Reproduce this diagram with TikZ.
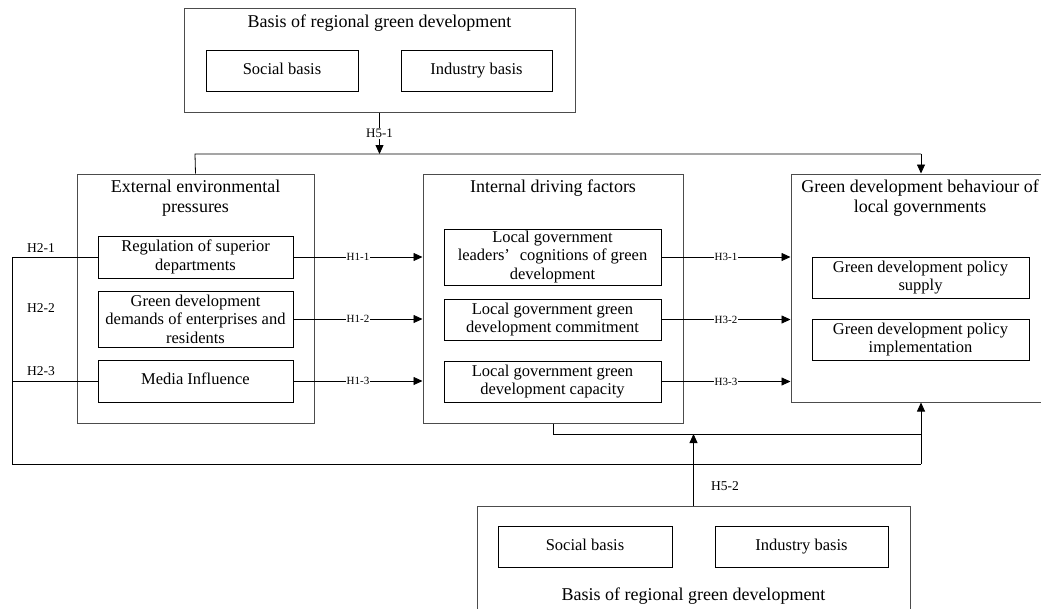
\documentclass[tikz,border=0pt]{standalone}
\usepackage{fontspec}
\setmainfont{Liberation Serif}
\usetikzlibrary{arrows.meta}
\tikzset{
  outer/.style={draw=black!70, line width=1pt, inner sep=0pt},
  inner/.style={draw=black, line width=0.8pt, align=center, inner sep=0pt,
    font=\fontsize{16.5}{18.5}\selectfont},
  oneline/.style={text height=11.5pt, text depth=3.6pt},
  ttl/.style={align=center, inner sep=0pt, font=\fontsize{18}{20.5}\selectfont},
  hsmall/.style={fill=white, inner sep=1pt, font=\fontsize{11}{12}\selectfont},
  hbig/.style={inner sep=0pt, font=\fontsize{13.5}{14}\selectfont},
  conn/.style={line width=0.8pt},
  arr/.style={line width=0.8pt, -{Triangle[length=9pt,width=8pt]}}
}
\begin{document}
\begin{tikzpicture}[x=1pt,y=-1pt]
\useasboundingbox (0,0) rectangle (1041,608);
\clip (0,0) rectangle (1041,608);
% top basis box
\node[outer, minimum width=391pt, minimum height=104pt] (top) at (379.5,60) {};
\node[ttl] (toptitle) at (379.5,23) {Basis of regional green development};
\node[inner, oneline, minimum width=152pt, minimum height=41pt] (soc1) at (282,70.5) {Social basis};
\node[inner, oneline, minimum width=151pt, minimum height=41pt] (ind1) at (476.5,70.5) {Industry basis};
% external box
\node[outer, minimum width=237pt, minimum height=249pt] (ext) at (195.5,298.5) {};
\node[ttl] (exttitle) at (195.5,198) {External environmental\\pressures};
\node[inner, minimum width=195pt, minimum height=42pt] (reg) at (195.5,257) {Regulation of superior\\departments};
\node[inner, minimum width=195pt, minimum height=56pt] (dem) at (195.5,319) {Green development\\demands of enterprises and\\residents};
\node[inner, oneline, minimum width=195pt, minimum height=42pt] (med) at (195.5,381) {Media Influence};
% internal box
\node[outer, minimum width=260pt, minimum height=249pt] (int) at (553,298.5) {};
\node[ttl] (inttitle) at (553,188) {Internal driving factors};
\node[inner, minimum width=217pt, minimum height=56pt] (lea) at (552.5,257) {Local government\\leaders’\hspace{0.6em}cognitions of green\\development};
\node[inner, minimum width=217pt, minimum height=41pt] (com) at (552.5,319.5) {Local government green\\development commitment};
\node[inner, minimum width=217pt, minimum height=41pt] (cap) at (552.5,381.5) {Local government green\\development capacity};
% green behaviour box
\node[outer, minimum width=258pt, minimum height=228pt] (grn) at (920,288) {};
\node[ttl] (grntitle) at (920,198) {Green development behaviour of\\local governments};
\node[inner, minimum width=217pt, minimum height=41pt] (sup) at (920.5,277.5) {Green development policy\\supply};
\node[inner, minimum width=217pt, minimum height=41pt] (imp) at (920.5,339.5) {Green development policy\\implementation};
% bottom basis box
\node[outer, minimum width=433pt, minimum height=134pt] (bot) at (693.5,573) {};
\node[ttl] (bottitle) at (693.5,596) {Basis of regional green development};
\node[inner, oneline, minimum width=174pt, minimum height=41pt] (soc2) at (585,546.5) {Social basis};
\node[inner, oneline, minimum width=173pt, minimum height=41pt] (ind2) at (801.5,546.5) {Industry basis};
% coordinates
\coordinate (tl) at (195,154);
\coordinate (tr) at (921,154);
\coordinate (lx) at (12,257);
\coordinate (lb) at (12,464);
\coordinate (rb) at (921,464);
\coordinate (mb) at (921,434);
% top connections
\draw[arr] (top.south) -- (top.south |- tl) node[midway, hsmall, font=\fontsize{13}{14}\selectfont] (h51) {H5-1};
\draw[conn] (ext.north) -- (tl) -- (tr);
\draw[arr] (tr) -- (tr |- grn.north);
% H1 arrows
\draw[arr] (reg.east) -- (reg.east -| int.west) node[midway, hsmall] (h11) {H1-1};
\draw[arr] (dem.east) -- (dem.east -| int.west) node[midway, hsmall] (h12) {H1-2};
\draw[arr] (med.east) -- (med.east -| int.west) node[midway, hsmall] (h13) {H1-3};
% H3 arrows
\draw[arr] (lea.east) -- (lea.east -| grn.west) node[midway, hsmall] (h31) {H3-1};
\draw[arr] (com.east) -- (com.east -| grn.west) node[midway, hsmall] (h32) {H3-2};
\draw[arr] (cap.east) -- (cap.east -| grn.west) node[midway, hsmall] (h33) {H3-3};
% H2 lines
\draw[conn] (reg.west) -- (lx) -- (lb) -- (rb);
\draw[conn] (med.west) -- (med.west -| lx);
\draw[arr] (rb) -- (rb |- grn.south);
\node[hbig] (h21) at (41,248) {H2-1};
\node[hbig] (h22) at (41,308) {H2-2};
\node[hbig] (h23) at (41,371) {H2-3};
% internal to bottom
\draw[conn] (int.south) -- (int.south |- mb) -- (mb);
\draw[arr] (bot.north) -- (bot.north |- mb);
\node[hbig] (h52) at (725,486) {H5-2};
\end{tikzpicture}
\end{document}
